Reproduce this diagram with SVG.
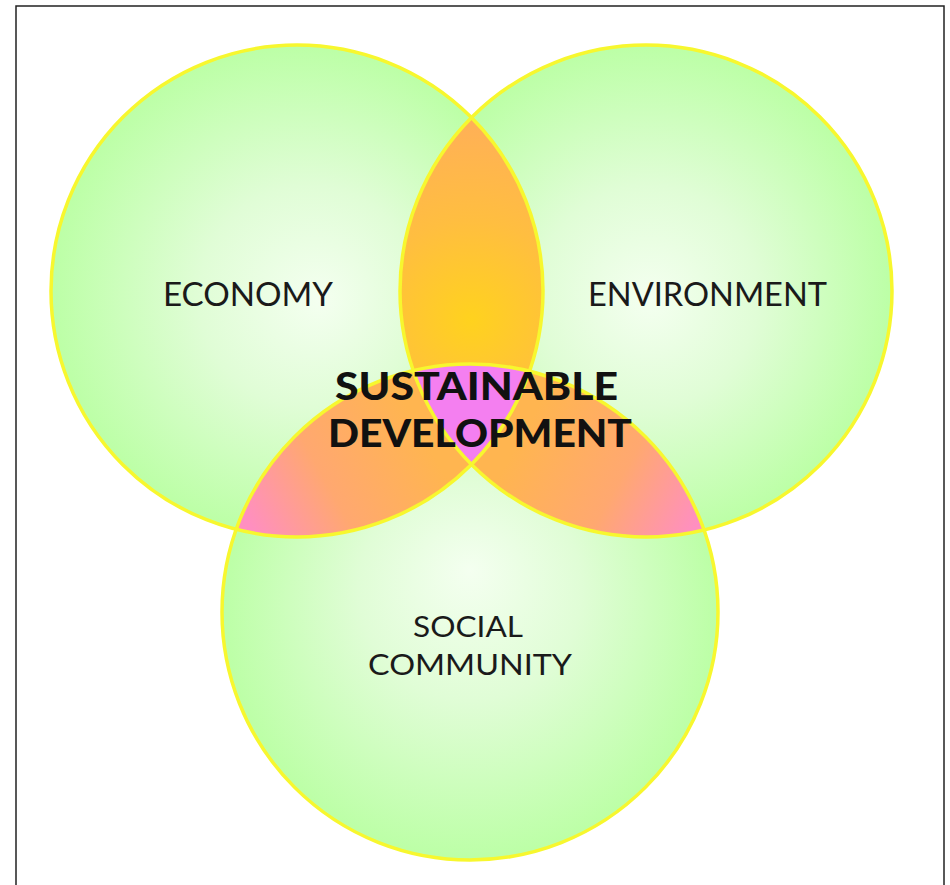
<svg xmlns="http://www.w3.org/2000/svg" width="950" height="885" viewBox="0 0 950 885">
  <style>
    .lbl { font-family: "Lato", "Open Sans", "Liberation Sans", sans-serif; fill: #1a1a1a; text-anchor: middle; }
    .big { font-family: "Lato", "Open Sans", "Liberation Sans", sans-serif; font-weight: 900; fill: #111; text-anchor: middle; }
    .outline { fill: none; stroke: #f7f72e; stroke-width: 3.5; }
  </style>
  <defs>
    <radialGradient id="gEcon" gradientUnits="userSpaceOnUse" cx="297" cy="291" r="246" fx="320" fy="300">
      <stop offset="0" stop-color="#f4fff0"/>
      <stop offset="0.45" stop-color="#e0fdd6"/>
      <stop offset="1" stop-color="#bcffa6"/>
    </radialGradient>
    <radialGradient id="gEnv" gradientUnits="userSpaceOnUse" cx="646" cy="291" r="246" fx="650" fy="300">
      <stop offset="0" stop-color="#f4fff0"/>
      <stop offset="0.45" stop-color="#e0fdd6"/>
      <stop offset="1" stop-color="#bcffa6"/>
    </radialGradient>
    <radialGradient id="gSoc" gradientUnits="userSpaceOnUse" cx="470" cy="612" r="248" fx="470" fy="570">
      <stop offset="0" stop-color="#f4fff0"/>
      <stop offset="0.45" stop-color="#e0fdd6"/>
      <stop offset="1" stop-color="#bcffa6"/>
    </radialGradient>
    <radialGradient id="gTop" gradientUnits="userSpaceOnUse" cx="471" cy="320" r="200">
      <stop offset="0" stop-color="#ffd21e"/>
      <stop offset="0.5" stop-color="#ffbe40"/>
      <stop offset="1" stop-color="#ffb057"/>
    </radialGradient>
    <linearGradient id="gLeft" gradientUnits="userSpaceOnUse" x1="250" y1="525" x2="420" y2="430">
      <stop offset="0" stop-color="#ff8fc0"/>
      <stop offset="0.45" stop-color="#ffa870"/>
      <stop offset="1" stop-color="#ffb550"/>
    </linearGradient>
    <linearGradient id="gRight" gradientUnits="userSpaceOnUse" x1="695" y1="525" x2="525" y2="430">
      <stop offset="0" stop-color="#ff8fc0"/>
      <stop offset="0.45" stop-color="#ffa870"/>
      <stop offset="1" stop-color="#ffb550"/>
    </linearGradient>
    <clipPath id="cEcon"><circle cx="297" cy="291" r="246"/></clipPath>
    <clipPath id="cEnv"><circle cx="646" cy="291" r="246"/></clipPath>
    <clipPath id="cSoc"><circle cx="470" cy="612" r="248"/></clipPath>
  </defs>

  <rect x="16" y="6" width="928" height="900" fill="#ffffff" stroke="#222" stroke-width="1.5"/>

  <g id="economy">
    <circle cx="297" cy="291" r="246" fill="url(#gEcon)"/>
  </g>
  <g id="environment">
    <circle cx="646" cy="291" r="246" fill="url(#gEnv)"/>
  </g>
  <g id="social-community">
    <circle cx="470" cy="612" r="248" fill="url(#gSoc)"/>
  </g>

  <g id="economy-environment" clip-path="url(#cEcon)">
    <circle cx="646" cy="291" r="246" fill="url(#gTop)"/>
  </g>
  <g id="economy-social" clip-path="url(#cEcon)">
    <circle cx="470" cy="612" r="248" fill="url(#gLeft)"/>
  </g>
  <g id="environment-social" clip-path="url(#cEnv)">
    <circle cx="470" cy="612" r="248" fill="url(#gRight)"/>
  </g>
  <g id="sustainable-development" clip-path="url(#cEcon)">
    <g clip-path="url(#cEnv)">
      <circle cx="470" cy="612" r="248" fill="#f47ff0"/>
    </g>
  </g>

  <g id="outlines">
    <circle class="outline" cx="297" cy="291" r="246"/>
    <circle class="outline" cx="646" cy="291" r="246"/>
    <circle class="outline" cx="470" cy="612" r="248"/>
  </g>

  <g id="labels">
    <text class="lbl" x="248" y="306" font-size="33" textLength="170" lengthAdjust="spacingAndGlyphs">ECONOMY</text>
    <text class="lbl" x="707.5" y="306" font-size="32" textLength="239" lengthAdjust="spacingAndGlyphs">ENVIRONMENT</text>
    <text class="lbl" x="468" y="637" font-size="28" textLength="110" lengthAdjust="spacingAndGlyphs">SOCIAL</text>
    <text class="lbl" x="470" y="675" font-size="28" textLength="204" lengthAdjust="spacingAndGlyphs">COMMUNITY</text>
    <text class="big" x="476.5" y="400" font-size="37" textLength="283" lengthAdjust="spacingAndGlyphs">SUSTAINABLE</text>
    <text class="big" x="480" y="447" font-size="37" textLength="304" lengthAdjust="spacingAndGlyphs">DEVELOPMENT</text>
  </g>
</svg>
